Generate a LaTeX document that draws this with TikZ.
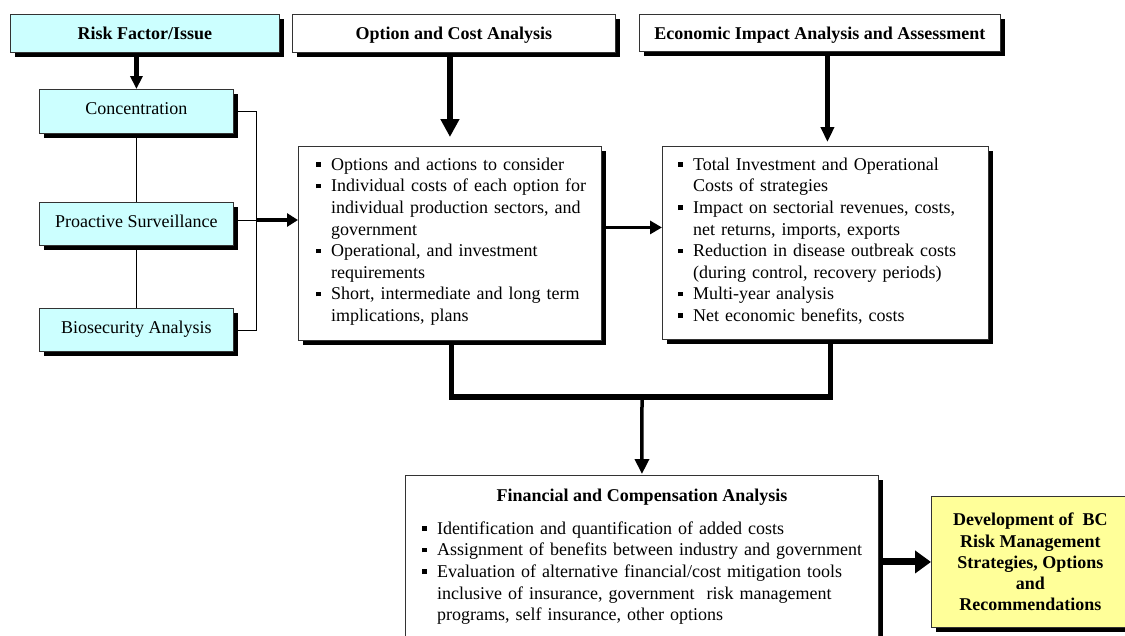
\documentclass[tikz,border=0pt]{standalone}
\usepackage{fontspec}
\setmainfont{Liberation Serif}
\usetikzlibrary{arrows.meta,shadows}

\definecolor{paleCyan}{HTML}{CCFFFF}
\definecolor{paleYellow}{HTML}{FFFF99}
\definecolor{edgeGray}{HTML}{333333}

% small square bullet and a hanging bullet item (\newline keeps the paragraph open)
\newcommand\sqbul{\raisebox{3.4pt}{\rule{4.6pt}{4.6pt}}}
\newcommand\bitem[1]{\noindent\hangindent=15pt\hangafter=1\makebox[15pt][l]{\sqbul}#1\par}

\begin{document}
\begin{tikzpicture}[x=1pt,y=-1pt,
  box/.style={draw=edgeGray, line width=0.9pt, anchor=north west, inner sep=0pt,
    drop shadow={shadow xshift=4.5pt, shadow yshift=-4.5pt, opacity=1, fill=black}},
  cyanbox/.style={box, fill=paleCyan},
  plainbox/.style={box, fill=white},
  yellowbox/.style={box, fill=paleYellow},
  headtext/.style={font=\fontsize{18}{21.6}\selectfont\bfseries, text height=12.5pt, text depth=0pt},
  sidetext/.style={font=\fontsize{18}{21.6}\selectfont, text height=12pt, text depth=5pt},
  listtext/.style={anchor=north west, inner sep=0pt, text width=600pt, align=left,
    font=\fontsize{18}{21.6}\selectfont},
  thinlink/.style={draw=black, line width=0.9pt},
  barlink/.style={draw=black, line width=5.5pt, line cap=rect, line join=miter},
  arrowA/.style={draw=black, line width=4.5pt, -{Triangle[length=13pt,width=12pt]}},
  arrowB/.style={draw=black, line width=6pt, -{Triangle[length=18pt,width=18pt]}},
  arrowC/.style={draw=black, line width=4.5pt, -{Triangle[length=15pt,width=13pt]}},
  arrowD/.style={draw=black, line width=3.5pt, -{Triangle[length=12pt,width=13pt]}},
  arrowE/.style={draw=black, line width=3.5pt, -{Triangle[length=15pt,width=14pt]}},
  arrowF/.style={draw=black, line width=7pt, -{Triangle[length=16pt,width=22pt]}},
]
\useasboundingbox (0,0) rectangle (1125,635);
\clip (0,0) rectangle (1125,635);

% column headers
\node[cyanbox, headtext, minimum width=269pt, minimum height=38pt] (rf) at (10,14) {Risk Factor/Issue};
\node[plainbox, headtext, minimum width=323pt, minimum height=38pt] (oca) at (292,14) {Option and Cost Analysis};
\node[plainbox, headtext, minimum width=361pt, minimum height=37pt] (eia) at (639,14) {Economic Impact Analysis and Assessment};

% risk factors
\node[cyanbox, sidetext, minimum width=194pt, minimum height=44pt] (conc) at (39,89) {Concentration};
\node[cyanbox, sidetext, minimum width=194pt, minimum height=43pt] (pro) at (39,202) {Proactive Surveillance};
\node[cyanbox, sidetext, minimum width=194pt, minimum height=43pt] (bio) at (39,308) {Biosecurity Analysis};

% option and cost box
\node[plainbox, minimum width=303pt, minimum height=194pt] (opt) at (298,146) {};
\node[listtext] (optlist) at (316,154.9) {%
  \bitem{\strut Options and actions to consider}
  \bitem{Individual costs of each option for\newline individual production sectors, and\newline government}
  \bitem{Operational, and investment\newline requirements}
  \bitem{Short, intermediate and long term\newline implications, plans}};

% economic impact box
\node[plainbox, minimum width=326pt, minimum height=193pt] (eco) at (662,146) {};
\node[listtext] (ecolist) at (678,154.9) {%
  \bitem{\strut Total Investment and Operational\newline Costs of strategies}
  \bitem{Impact on sectorial revenues, costs,\newline net returns, imports, exports}
  \bitem{Reduction in disease outbreak costs\newline (during control, recovery periods)}
  \bitem{Multi-year analysis}
  \bitem{Net economic benefits, costs}};

% financial and compensation box
\node[plainbox, minimum width=473pt, minimum height=200pt] (fin) at (405,475) {};
\node[anchor=base, inner sep=0pt, font=\fontsize{18}{21.6}\selectfont\bfseries] (fintitle) at (642,501)
  {Financial and Compensation Analysis};
\node[listtext] (finlist) at (422,518.9) {%
  \bitem{\strut Identification and quantification of added costs}
  \bitem{Assignment of benefits between industry and government}
  \bitem{Evaluation of alternative financial/cost mitigation tools\newline inclusive of insurance, government~ risk management\newline programs, self insurance, other options}};

% outcome box
\node[yellowbox, minimum width=198pt, minimum height=131pt, align=center,
  font=\fontsize{18}{21.2}\selectfont\bfseries] (dev) at (931,496)
  {Development of~ BC\\ Risk Management\\ Strategies, Options\\ and\\ Recommendations};

% connectors
\coordinate (jn) at (256.5,220);
\coordinate (mrg) at (642,397);

\draw[arrowA] (rf.south -| conc.north) -- (conc.north);
\draw[thinlink] (conc.south) -- (pro.north);
\draw[thinlink] (pro.south) -- (bio.north);
\draw[thinlink] (conc.east) -- (conc.east -| jn) -- (bio.east -| jn) -- (bio.east);
\draw[thinlink] (pro.east |- jn) -- (jn);
\draw[arrowA, line width=4pt, -{Triangle[length=11pt,width=13pt]}] (jn) -- (opt.west |- jn);

\draw[arrowB, shorten >=9pt] (oca.south -| opt.north) -- (opt.north);
\draw[arrowC, shorten >=4pt] ([xshift=2pt]eia.south -| eco.north) -- ([xshift=2pt]eco.north);
\draw[arrowD] ([yshift=16pt]opt.east) -- ([yshift=16pt]opt.east -| eco.west);

\draw[barlink] ([xshift=1.5pt,yshift=-4pt]opt.south) |- (mrg) -| ([xshift=5pt,yshift=-4pt]eco.south);
\draw[arrowE, shorten >=1pt] (mrg) -- (fin.north);
\draw[arrowF] (dev.west -| fin.east) -- (dev.west);
\end{tikzpicture}
\end{document}
